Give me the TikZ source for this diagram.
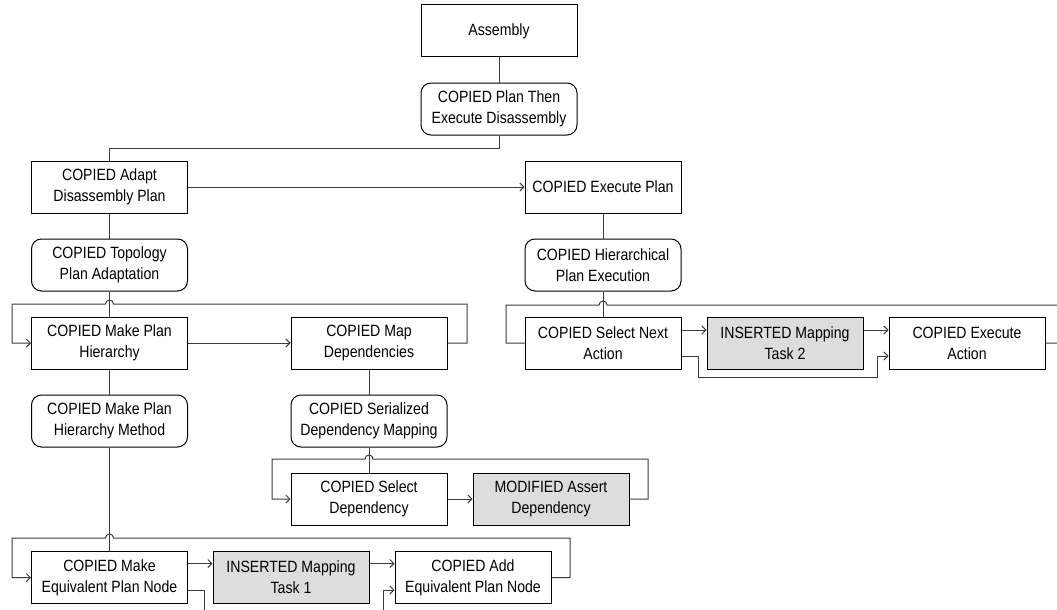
\documentclass[tikz,border=0pt]{standalone}
\usepackage{fontspec}
\setmainfont{Liberation Sans}[FakeStretch=0.865]
\usetikzlibrary{arrows.meta,calc}
\definecolor{grayfill}{RGB}{221,221,221}
\definecolor{linegray}{RGB}{60,60,60}
\begin{document}
\begin{tikzpicture}[x=1pt,y=-1pt,
  box/.style={draw=black,line width=1pt,minimum width=156pt,minimum height=52pt,inner sep=0pt,align=center,font=\fontsize{16.3}{21}\selectfont},
  rbox/.style={box,rounded corners=10pt},
  gbox/.style={box,fill=grayfill},
  conn/.style={draw=linegray,line width=1pt},
  arr/.style={conn,-{Straight Barb[length=4pt,width=8pt]}}]
\useasboundingbox (0,0) rectangle (1057,610);
\clip (0,0) rectangle (1057,610);
% nodes
\node[box]  (asm)   at (499,31)    {Assembly};
\node[rbox] (pte)   at (499,109)   {COPIED Plan Then\\Execute Disassembly};
\node[box]  (adapt) at (109.5,187) {COPIED Adapt\\Disassembly Plan};
\node[box]  (exec)  at (603,187)   {COPIED Execute Plan};
\node[rbox] (topo)  at (109.5,265) {COPIED Topology\\Plan Adaptation};
\node[rbox] (hpe)   at (603,265)   {COPIED Hierarchical\\Plan Execution};
\node[box]  (mph)   at (109.5,343) {COPIED Make Plan\\Hierarchy};
\node[box]  (md)    at (369,343)   {COPIED Map\\Dependencies};
\node[box]  (sna)   at (603,343)   {COPIED Select Next\\Action};
\node[gbox] (imt2)  at (785,343)   {INSERTED Mapping\\Task 2};
\node[box]  (ea)    at (967,343)   {COPIED Execute\\Action};
\node[rbox] (mphm)  at (109.5,421) {COPIED Make Plan\\Hierarchy Method};
\node[rbox] (sdm)   at (369,421)   {COPIED Serialized\\Dependency Mapping};
\node[box]  (sel)   at (369,499)   {COPIED Select\\Dependency};
\node[gbox] (asrt)  at (551,499)   {MODIFIED Assert\\Dependency};
\node[box]  (mepn)  at (109.5,577.5) {COPIED Make\\Equivalent Plan Node};
\node[gbox] (imt1)  at (291,577.5) {INSERTED Mapping\\Task 1};
\node[box]  (aepn)  at (473,577.5) {COPIED Add\\Equivalent Plan Node};
% tree connectors
\draw[conn] (asm.south) -- (pte.north);
\draw[conn] (pte.south) -- (499,148) -- (109.5,148) -- (adapt.north);
\draw[arr]  (adapt.east) -- (exec.west);
\draw[conn] (adapt.south) -- (topo.north);
\draw[conn] (exec.south) -- (hpe.north);
\draw[conn] (topo.south) -- (mph.north);
\draw[conn] (hpe.south) -- (sna.north);
\draw[conn] (mph.south) -- (mphm.north);
\draw[conn] (md.south) -- (sdm.north);
\draw[conn] (sdm.south) -- (sel.north);
\draw[conn] (mphm.south) -- (mepn.north);
% loop: make plan hierarchy
\draw[arr] (md.east) -- (467,343) -- (467,304) -- (113.5,304) arc[start angle=0,end angle=180,radius=4pt] -- (12,304) -- (12,343) -- (mph.west);
\draw[arr] (mph.east) -- (md.west);
% loop: select dependency
\draw[arr] (asrt.east) -- (648,499) -- (648,459) -- (373,459) arc[start angle=0,end angle=180,radius=4pt] -- (272,459) -- (272,499) -- (sel.west);
\draw[arr] (sel.east) -- (asrt.west);
% loop: execute plan
\draw[conn] (ea.east) -- (1070,343) -- (1070,305) -- (607,305) arc[start angle=0,end angle=180,radius=4pt] -- (506,305) -- (506,343) -- (sna.west);
\draw[arr] ($(sna.east)+(0,-13)$) -- ($(imt2.west)+(0,-13)$);
\draw[arr] ($(imt2.east)+(0,-13)$) -- ($(ea.west)+(0,-13)$);
\draw[arr] ($(sna.east)+(0,13)$) -- (698,356) -- (698,377) -- (877,377) -- (877,356) -- ($(ea.west)+(0,13)$);
% loop: equivalent plan node
\draw[arr] (aepn.east) -- (570,577.5) -- (570,538) -- (113.5,538) arc[start angle=0,end angle=180,radius=4pt] -- (12,538) -- (12,577.5) -- (mepn.west);
\draw[arr] ($(mepn.east)+(0,-14)$) -- ($(imt1.west)+(0,-14)$);
\draw[arr] ($(imt1.east)+(0,-14)$) -- ($(aepn.west)+(0,-14)$);
\draw[arr] ($(mepn.east)+(0,12.5)$) -- (204,590) -- (204,625) -- (383,625) -- (383,590) -- ($(aepn.west)+(0,12.5)$);
\end{tikzpicture}
\end{document}
